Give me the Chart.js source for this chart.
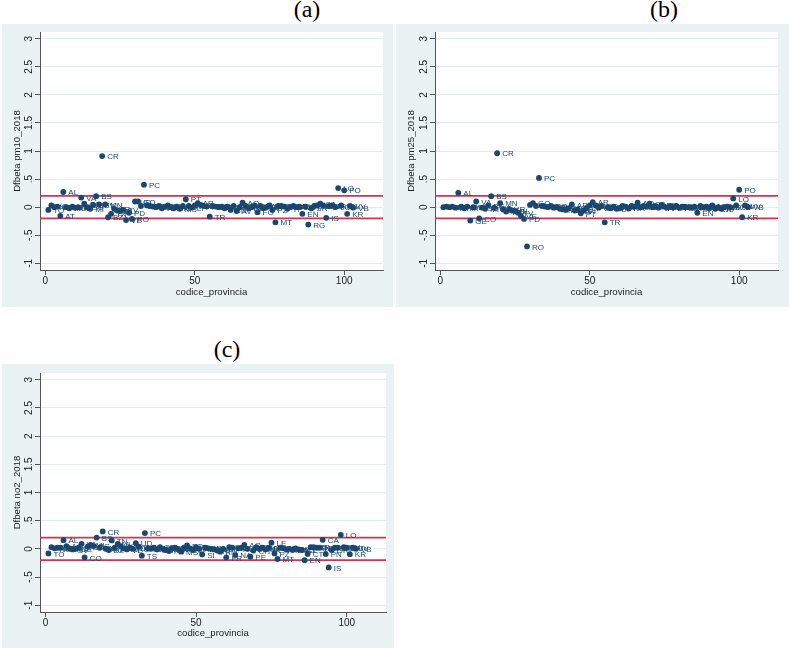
<!DOCTYPE html>
<html>
<head>
<meta charset="utf-8">
<script src="https://cdn.jsdelivr.net/npm/chart.js@4"></script>
<style>
  body { margin:0; background:#fff; width:789px; height:651px; position:relative; overflow:hidden; }
  .panel { position:absolute; background:#eaf2f3; }
  .panel canvas { display:block; }
  .tag { position:absolute; font-family:"Liberation Serif","Times New Roman",serif; font-size:24px; line-height:24px; color:#000; transform:translateX(-50%); white-space:nowrap; }
</style>
</head>
<body>
<div class="tag" style="left:307px;top:-3px">(a)</div>
<div class="tag" style="left:664px;top:-3px">(b)</div>
<div class="tag" style="left:227px;top:337px">(c)</div>

<div class="panel" style="left:2px;top:24px;width:391px;height:283px"><canvas id="chartA" width="391" height="283"></canvas></div>
<div class="panel" style="left:396px;top:24px;width:393px;height:283px"><canvas id="chartB" width="393" height="283"></canvas></div>
<div class="panel" style="left:2px;top:364px;width:392px;height:284px"><canvas id="chartC" width="392" height="284"></canvas></div>

<script>
// province abbreviations, in codice_provincia order (1..103)
const provinces = ['TO','VC','NO','CN','AT','AL','AO','IM','SV','GE','SP','VA','CO','SO','MI','BG','BS','PV','CR','MN',
  'BZ','TN','VR','VI','BL','TV','VE','PD','RO','UD','GO','TS','PC','PR','RE','MO','BO','FE','RA','FC',
  'PU','AN','MC','AP','MS','LU','PT','FI','LI','PI','AR','SI','GR','PG','TR','VT','RI','RM','LT','FR',
  'CE','BN','NA','AV','SA','AQ','TE','PE','CH','CB','FG','BA','TA','BR','LE','PZ','MT','CS','CZ','RC',
  'TP','PA','ME','AG','CL','EN','CT','RG','SR','SS','NU','CA','PN','IS','OR','BI','LC','LO','RN','PO',
  'KR','VV','VB'];
// codice_provincia is the position in the list above
const codes = provinces.map((p, i) => i + 1);

const dfbetaPm10 = [-0.05,0.03,0.0,0.01,-0.155,0.27,0.0,-0.02,0.01,-0.01,
  0.0,0.17,0.06,0.0,-0.03,0.04,0.195,0.05,0.91,0.05,
  -0.18,-0.12,-0.03,-0.06,-0.07,-0.05,-0.23,-0.10,-0.21,0.10,
  0.10,0.02,0.40,0.03,0.02,0.01,0.0,0.02,-0.02,0.01,
  0.03,0.0,-0.02,0.01,-0.03,0.02,0.14,0.02,-0.01,0.03,
  0.07,0.04,0.02,0.01,-0.17,0.02,0.01,0.0,0.01,-0.02,
  0.01,-0.05,0.02,-0.07,0.0,0.08,0.02,-0.02,0.0,0.03,
  -0.09,0.02,-0.02,0.0,0.03,-0.05,-0.27,0.02,0.02,0.01,
  -0.03,0.0,0.02,0.0,0.01,-0.12,0.01,-0.31,-0.02,0.02,
  0.03,0.06,0.03,-0.19,0.02,0.03,0.0,0.34,0.03,0.30,
  -0.12,0.02,-0.01];

const dfbetaPm25 = [0.0,0.01,0.0,0.01,-0.01,0.255,0.01,-0.02,0.01,-0.24,
  0.0,0.10,-0.20,-0.01,-0.03,0.03,0.195,-0.01,0.96,0.07,
  -0.04,-0.08,-0.03,-0.06,-0.07,-0.10,-0.16,-0.21,-0.70,0.04,
  0.07,0.02,0.52,0.02,0.01,0.0,0.02,-0.01,0.0,-0.03,
  -0.04,-0.05,-0.02,0.05,-0.06,-0.04,-0.11,-0.06,-0.02,0.03,
  0.09,0.03,-0.01,0.02,-0.27,0.0,-0.02,0.01,-0.03,-0.02,
  0.02,0.01,-0.02,0.02,0.01,0.08,0.0,0.02,0.01,0.06,
  0.0,0.02,-0.01,0.04,0.01,-0.01,0.02,0.0,0.02,-0.01,
  0.01,0.0,0.0,-0.01,0.01,-0.10,0.02,0.0,0.01,-0.02,
  0.03,-0.03,0.0,-0.03,0.0,0.01,0.0,0.155,0.03,0.31,
  -0.18,0.03,0.0];

const dfbetaNo2 = [-0.08,0.03,0.01,0.02,0.02,0.155,0.05,0.01,-0.01,0.0,
  0.02,0.09,-0.15,0.04,0.07,0.05,0.20,0.02,0.31,0.0,
  -0.02,0.15,0.02,0.09,0.05,0.01,-0.01,0.02,0.0,0.10,
  0.04,-0.12,0.28,0.01,0.0,0.02,-0.01,0.03,0.0,-0.02,
  -0.04,0.01,0.02,0.0,-0.05,0.02,0.06,0.01,-0.02,0.03,
  0.0,-0.10,0.02,0.01,0.0,-0.01,-0.03,-0.05,0.0,-0.15,
  0.03,0.02,-0.11,0.01,0.02,0.07,0.0,-0.14,-0.03,0.03,
  0.0,0.02,-0.01,0.02,0.11,-0.08,-0.18,0.02,0.01,-0.01,
  0.0,-0.02,0.01,-0.01,-0.02,-0.20,-0.09,0.03,0.03,0.02,
  0.02,0.16,-0.09,-0.33,-0.02,0.02,0.02,0.25,0.03,0.02,
  -0.095,0.02,0.0];

const yTicks = [-1, -0.5, 0, 0.5, 1, 1.5, 2, 2.5, 3];
const yTickLabels = ['-1', '-.5', '0', '.5', '1', '1.5', '2', '2.5', '3'];
const xTicks = [0, 50, 100];
const cutoffs = [0.2, -0.2];

const navy = '#1a476f';
const sans = '"Liberation Sans", Arial, sans-serif';

const stataLook = {
  id: 'stataLook',
  beforeDraw(chart) {
    const {ctx, chartArea: a} = chart;
    ctx.save();
    ctx.fillStyle = '#eaf2f3';
    ctx.fillRect(0, 0, chart.width, chart.height);
    ctx.fillStyle = '#ffffff';
    ctx.fillRect(a.left, a.top, a.right - a.left, a.bottom - a.top);
    ctx.restore();
  },
  beforeDatasetsDraw(chart) {
    const {ctx, chartArea: a, scales: {y}} = chart;
    ctx.save();
    ctx.strokeStyle = '#d8304f';
    ctx.lineWidth = 1.6;
    cutoffs.forEach(v => {
      const py = y.getPixelForValue(v);
      ctx.beginPath();
      ctx.moveTo(a.left, py);
      ctx.lineTo(a.right, py);
      ctx.stroke();
    });
    ctx.restore();
  },
  afterDatasetsDraw(chart) {
    const {ctx} = chart;
    const meta = chart.getDatasetMeta(0);
    ctx.save();
    ctx.font = '8px ' + sans;
    ctx.fillStyle = navy;
    ctx.textAlign = 'left';
    ctx.textBaseline = 'middle';
    meta.data.forEach((pt, i) => {
      ctx.fillText(provinces[i], pt.x + 5, pt.y + 1);
    });
    ctx.restore();
  },
  afterDraw(chart) {
    const {ctx, scales: {y}} = chart;
    ctx.save();
    ctx.font = '10px ' + sans;
    ctx.fillStyle = '#222';
    ctx.textAlign = 'center';
    ctx.textBaseline = 'middle';
    yTicks.forEach((v, i) => {
      ctx.save();
      ctx.translate(y.right - 11, y.getPixelForValue(v));
      ctx.rotate(-Math.PI / 2);
      ctx.fillText(yTickLabels[i], 0, 0);
      ctx.restore();
    });
    ctx.restore();
  }
};

function makePanel(id, values, yTitle, box) {
  return new Chart(document.getElementById(id), {
    type: 'scatter',
    data: {
      datasets: [{
        data: codes.map((c, i) => ({x: c, y: values[i]})),
        backgroundColor: navy,
        borderColor: navy,
        pointRadius: 2.9,
        borderWidth: 0
      }]
    },
    options: {
      responsive: false,
      animation: false,
      events: [],
      layout: {padding: {top: box.top, right: box.right, left: 0, bottom: 0}},
      plugins: {legend: {display: false}, tooltip: {enabled: false}},
      scales: {
        x: {
          type: 'linear',
          min: -1.8,
          max: 113,
          afterBuildTicks: s => { s.ticks = xTicks.map(v => ({value: v})); },
          afterFit: s => { s.height = box.bottom; },
          ticks: {font: {family: sans, size: 10}, color: '#222', padding: 0, maxRotation: 0},
          grid: {drawOnChartArea: false, drawTicks: true, tickLength: 5, tickColor: '#555'},
          border: {color: '#555', width: 1},
          title: {display: true, text: 'codice_provincia', font: {family: sans, size: 9.6}, color: '#222', padding: {top: 0, bottom: 9}}
        },
        y: {
          min: -1.12,
          max: 3.12,
          afterBuildTicks: s => { s.ticks = yTicks.map(v => ({value: v})); },
          afterFit: s => { s.width = box.left; },
          ticks: {display: false},
          grid: {color: '#e4ecee', lineWidth: 1, drawTicks: true, tickLength: 5, tickColor: '#555'},
          border: {color: '#555', width: 1},
          title: {display: true, text: yTitle, font: {family: sans, size: 9.6}, color: '#222', padding: {top: 9.5, bottom: 0}}
        }
      }
    },
    plugins: [stataLook]
  });
}

makePanel('chartA', dfbetaPm10, 'Dfbeta pm10_2018', {left: 38, top: 8, right: 10, bottom: 37});
makePanel('chartB', dfbetaPm25, 'Dfbeta pm25_2018', {left: 39, top: 8, right: 11, bottom: 37});
makePanel('chartC', dfbetaNo2, 'Dfbeta no2_2018', {left: 38, top: 9, right: 8, bottom: 36});
</script>
</body>
</html>
